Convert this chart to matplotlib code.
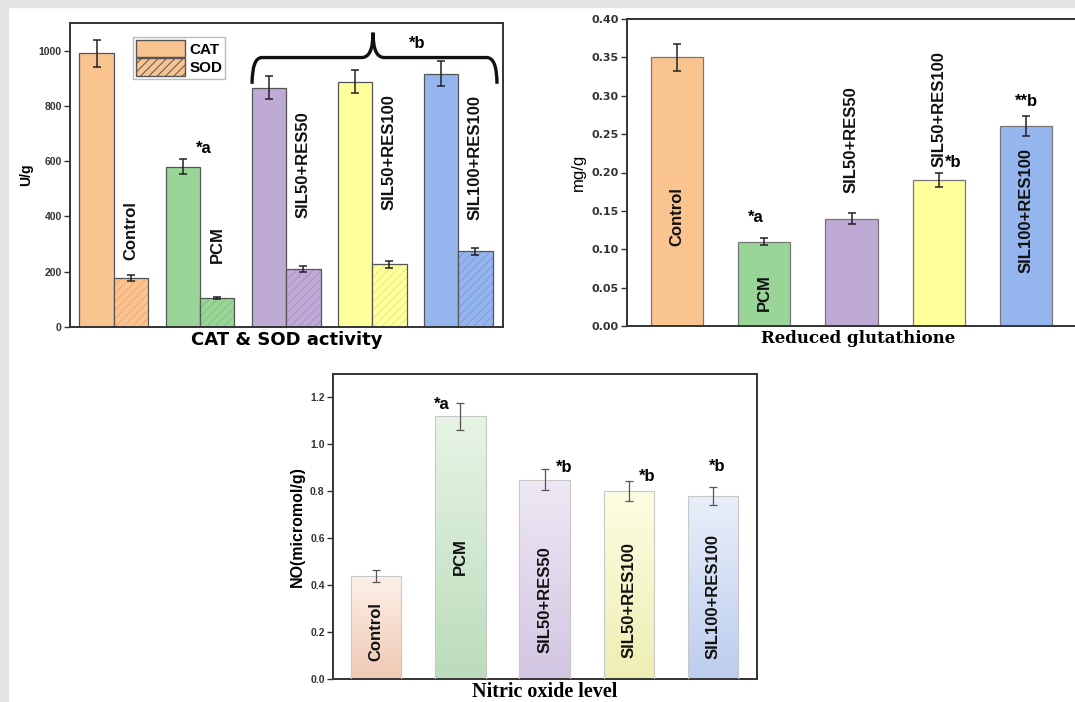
import numpy as np
import matplotlib
matplotlib.use("Agg")
import matplotlib.pyplot as plt
from matplotlib.patches import Rectangle, Patch, PathPatch
from matplotlib.path import Path

plt.rcParams['font.family'] = ['Liberation Sans', 'DejaVu Sans']
plt.rcParams['hatch.linewidth'] = 0.7

# data
groups = ["Control", "PCM", "SIL50+RES50", "SIL50+RES100", "SIL100+RES100"]
colors = ["#fac491", "#9ad598", "#bfaad6", "#ffff9c", "#94b5ee"]
hatch_cols = ["#f2a872", "#7fc17c", "#a891c4", "#e8e87a", "#7b9fdc"]

cat = [990, 580, 866, 888, 917]
cat_err = [50, 28, 42, 43, 45]
sod = [177, 104, 209, 227, 274]
sod_err = [10, 4, 11, 12, 13]

gsh = [0.35, 0.11, 0.14, 0.19, 0.26]
gsh_err = [0.018, 0.005, 0.007, 0.009, 0.013]

no = [0.44, 1.12, 0.85, 0.80, 0.78]
no_err = [0.025, 0.057, 0.045, 0.042, 0.04]
no_top = ["#fdf0e8", "#e7f4e5", "#eee8f4", "#fdfde3", "#e8eff9"]
no_bot = ["#efcab4", "#bcdcbc", "#d2c6e2", "#eeeeb4", "#bccdee"]

fig = plt.figure(figsize=(10.75, 7.02), dpi=100)
fig.patches.append(Rectangle((0, 1 - 7 / 702), 1, 7 / 702, transform=fig.transFigure,
                             color="#e4e4e4", zorder=0))
fig.patches.append(Rectangle((0, 0), 8 / 1075, 1, transform=fig.transFigure,
                             color="#e4e4e4", zorder=0))

spine_col = "#333333"


def style(ax, ticks, fmt, label, label_weight="bold", tick_size=7.5, tick_family=None,
          label_size=10):
    ax.set_yticks(ticks)
    labels = ax.set_yticklabels([fmt.format(t) for t in ticks], fontsize=tick_size,
                                fontweight="bold", color="#222222")
    if tick_family:
        for t in labels:
            t.set_family(tick_family)
    ax.set_xticks([])
    ax.tick_params(axis="y", direction="out", length=4, width=1, pad=2, colors=spine_col)
    for s in ax.spines.values():
        s.set_color(spine_col)
        s.set_linewidth(1.4)
    ax.set_ylabel(label, fontsize=label_size, fontweight=label_weight, labelpad=4)


# ---- CAT & SOD ----
ax1 = fig.add_axes([70 / 1075, 1 - 327 / 702, 433 / 1075, 304 / 702])
x = np.arange(len(groups))
w = 0.4
ax1.bar(x - w / 2, cat, w, color=colors, edgecolor="#555555", linewidth=0.9, zorder=2)
ax1.errorbar(x - w / 2, cat, yerr=cat_err, fmt="none", ecolor="#222222",
             elinewidth=1.1, capsize=3, capthick=1.1, zorder=3)
ax1.bar(x + w / 2, sod, w, color=colors, edgecolor=hatch_cols, hatch="////",
        linewidth=0, zorder=2)
ax1.bar(x + w / 2, sod, w, fill=False, edgecolor="#555555", linewidth=0.9, zorder=2)
ax1.errorbar(x + w / 2, sod, yerr=sod_err, fmt="none", ecolor="#222222",
             elinewidth=1.1, capsize=3, capthick=1.1, zorder=3)
ax1.set_xlim(-0.51, 4.52)
ax1.set_ylim(0, 1100)
style(ax1, [0, 200, 400, 600, 800, 1000], "{:d}", "U/g")
ax1.set_xlabel("CAT & SOD activity", family="DejaVu Sans", fontsize=13,
               fontweight="bold", labelpad=3)

lab1_y = [242, 231, 393, 422, 386]
for i, g in enumerate(groups):
    ax1.text(x[i] + w / 2, lab1_y[i], g, rotation=90, ha="center", va="bottom",
             fontsize=12, fontweight="bold", color="#111111")
ax1.text(1.05, 620, "*a", fontsize=12, fontweight="bold", ha="center", va="bottom")
ax1.text(3.52, 1000, "*b", fontsize=12, fontweight="bold", ha="center", va="bottom")

verts = [(1.605, 880), (1.605, 975), (1.72, 975), (2.88, 975), (3.01, 975), (3.01, 1065),
         (3.01, 975), (3.14, 975), (4.33, 975), (4.45, 975), (4.45, 880)]
codes = [Path.MOVETO, Path.CURVE3, Path.CURVE3, Path.LINETO, Path.CURVE3, Path.CURVE3,
         Path.CURVE3, Path.CURVE3, Path.LINETO, Path.CURVE3, Path.CURVE3]
ax1.add_patch(PathPatch(Path(verts, codes), fill=False, lw=2.4, color="#111111",
                        clip_on=False, zorder=4))

leg = ax1.legend(handles=[Patch(facecolor=colors[0], edgecolor="#555555", label="CAT"),
                          Patch(facecolor=colors[0], edgecolor="#555555", hatch="////",
                                label="SOD")],
                 loc="upper left", bbox_to_anchor=(0.145, 0.955),
                 prop={"weight": "bold", "size": 11}, frameon=True, fancybox=False,
                 handlelength=3.2, handleheight=1.4, handletextpad=0.3,
                 labelspacing=0.05, borderpad=0.2, borderaxespad=0)
leg.get_frame().set_edgecolor("#aaaaaa")

# ---- Reduced glutathione ----
ax2 = fig.add_axes([627 / 1075, 1 - 326 / 702, 463 / 1075, 307 / 702])
w2 = 0.6
ax2.bar(x, gsh, w2, color=colors, edgecolor="#777777", linewidth=0.9, zorder=2)
ax2.errorbar(x, gsh, yerr=gsh_err, fmt="none", ecolor="#222222",
             elinewidth=1.1, capsize=3, capthick=1.1, zorder=3)
ax2.set_xlim(-0.57, 4.73)
ax2.set_ylim(0, 0.40)
style(ax2, [0, 0.05, 0.10, 0.15, 0.20, 0.25, 0.30, 0.35, 0.40], "{:.2f}", "mg/g",
      label_weight="normal", tick_size=8, tick_family="DejaVu Sans", label_size=12)
ax2.spines["right"].set_visible(False)
ax2.set_xlabel("Reduced glutathione", family="DejaVu Serif", fontsize=12,
               fontweight="bold", labelpad=3)
lab2_y = [0.142, 0.043, 0.173, 0.207, 0.150]
lab2_va = ["center", "center", "bottom", "bottom", "center"]
for i, g in enumerate(groups):
    ax2.text(x[i], lab2_y[i], g, rotation=90, ha="center", va=lab2_va[i],
             fontsize=12, fontweight="bold", color="#111111")
ax2.text(0.9, 0.132, "*a", fontsize=12, fontweight="bold", ha="center", va="bottom")
ax2.text(3.17, 0.203, "*b", fontsize=12, fontweight="bold", ha="center", va="bottom")
ax2.text(4.0, 0.283, "**b", fontsize=12, fontweight="bold", ha="center", va="bottom")

# ---- Nitric oxide ----
ax3 = fig.add_axes([333 / 1075, 1 - 679 / 702, 424 / 1075, 305 / 702])
bars = ax3.bar(x, no, w2, color="none", edgecolor="#c8c8c8", linewidth=0.8, zorder=3)
for i, b in enumerate(bars):
    c0 = np.array(matplotlib.colors.to_rgb(no_top[i]))
    c1 = np.array(matplotlib.colors.to_rgb(no_bot[i]))
    t = np.linspace(0, 1, 64)[:, None]
    grad = (c0 * (1 - t) + c1 * t)[:, None, :]
    im = ax3.imshow(grad, extent=(b.get_x(), b.get_x() + b.get_width(), 0, b.get_height()),
                    aspect="auto", origin="upper", zorder=2)
    im.set_clip_path(b)
ax3.errorbar(x, no, yerr=no_err, fmt="none", ecolor="#555555",
             elinewidth=0.9, capsize=3, capthick=0.9, zorder=4)
ax3.set_xlim(-0.51, 4.52)
ax3.set_ylim(0, 1.3)
style(ax3, [0, 0.2, 0.4, 0.6, 0.8, 1.0, 1.2], "{:.1f}", "NO(micromol/g)", label_size=11.5)
ax3.set_xlabel("Nitric oxide level", family="Liberation Serif", fontsize=14.5,
               fontweight="bold", labelpad=2)
lab3_y = [0.204, 0.52, 0.337, 0.336, 0.35]
for i, g in enumerate(groups):
    ax3.text(x[i], lab3_y[i], g, rotation=90, ha="center", va="center",
             fontsize=12, fontweight="bold", color="#111111", zorder=5)
note3 = ["*a", "*b", "*b", "*b"]
note3_xy = [(0.78, 1.14), (2.23, 0.87), (3.22, 0.83), (4.05, 0.875)]
for s, (nx, ny) in zip(note3, note3_xy):
    ax3.text(nx, ny, s, fontsize=12, fontweight="bold", ha="center", va="bottom")

fig.savefig("out.png", dpi=100)
